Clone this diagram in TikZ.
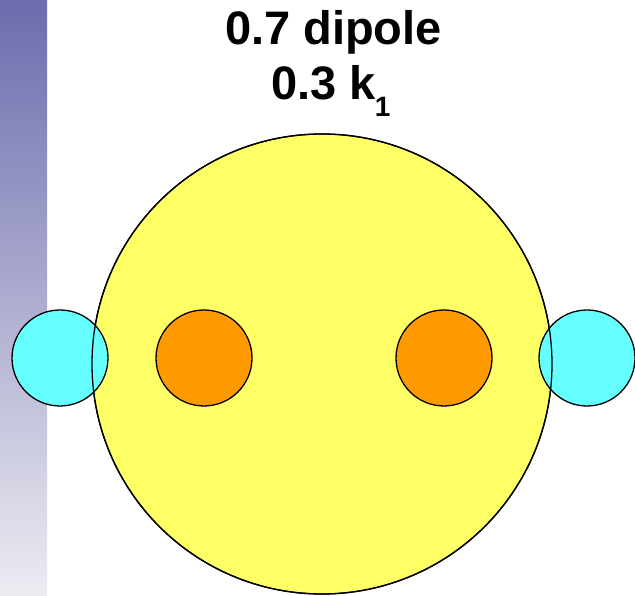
\documentclass[tikz,border=0pt]{standalone}
\usepackage{fontspec}
\setmainfont{Liberation Sans}
\definecolor{stripTop}{RGB}{108,108,174}
\definecolor{stripBot}{RGB}{236,236,242}
\definecolor{yellowF}{RGB}{255,255,102}
\definecolor{cyanF}{RGB}{102,255,255}
\definecolor{orangeF}{RGB}{255,153,0}
\begin{document}
\begin{tikzpicture}[x=1pt,y=1pt,
  ball/.style={circle,draw=black,line width=1.3pt,inner sep=0pt},
  lbl/.style={font=\bfseries\fontsize{47}{50}\selectfont,align=center,inner sep=0pt}]
\useasboundingbox (0,0) rectangle (635,596);
\fill[white] (0,0) rectangle (635,596);
\shade[top color=stripTop,bottom color=stripBot] (0,0) rectangle (47,596);
\node[ball,fill=yellowF,minimum size=460pt] (big) at (322,232) {};
\node[ball,fill=cyanF,minimum size=96pt] (cl) at (60,238) {};
\node[ball,fill=cyanF,minimum size=96pt] (cr) at (587,238) {};
\draw[line width=1.3pt] (big.center) circle (230);
\node[ball,fill=orangeF,minimum size=96pt] (ol) at (204,238) {};
\node[ball,fill=orangeF,minimum size=96pt] (or) at (444,238) {};
\node[lbl,anchor=base] (t1) at (333.5,551) {0.7 dipole};
\node[lbl,anchor=base] (t2) at (331,496) {0.3 k\kern-1pt\raisebox{-0.36em}{\fontsize{28}{28}\selectfont 1}};
\end{tikzpicture}
\end{document}
